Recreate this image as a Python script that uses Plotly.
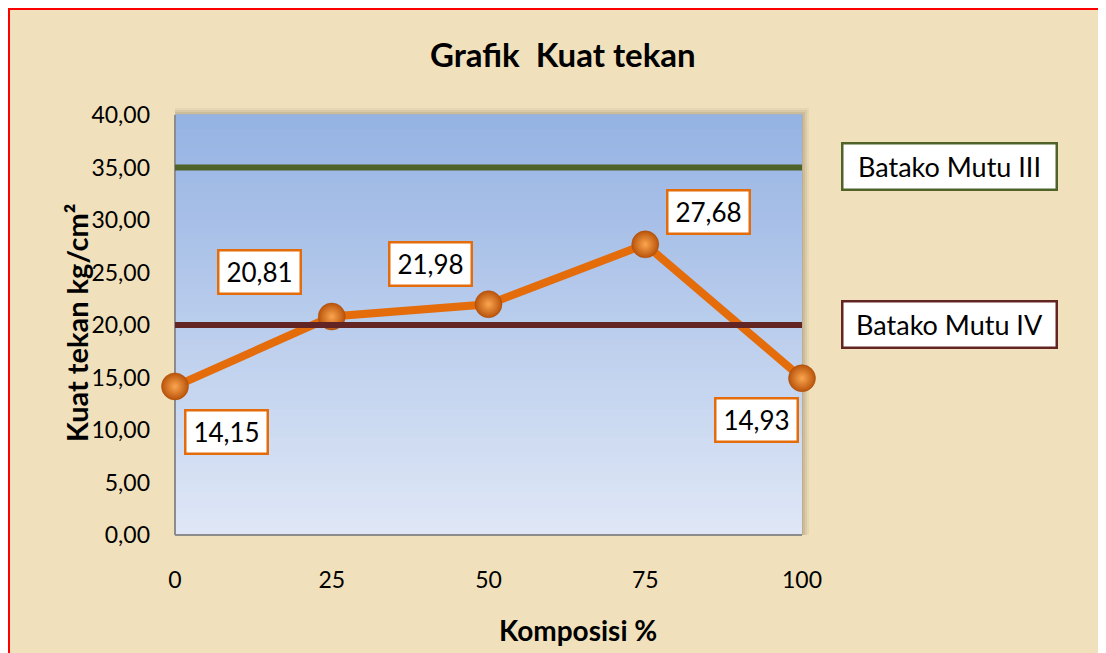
import plotly.graph_objects as go

# ---- data ----
komposisi = [0, 25, 50, 75, 100]
kuat_tekan = [14.15, 20.81, 21.98, 27.68, 14.93]
label_text = ["14,15", "20,81", "21,98", "27,68", "14,93"]
mutu_names = ["Batako Mutu III", "Batako Mutu IV"]
mutu_values = [35.0, 20.0]
y_ticks = [0, 5, 10, 15, 20, 25, 30, 35, 40]
x_ticks = [0, 25, 50, 75, 100]

OFF = 8  # default page body margin
W, H = 1106 - OFF, 653 - OFF
# plot area in screen pixels
SL, SR, ST, SB = 175, 802, 115, 535
L, R, T, B = SL - OFF, SR - OFF, ST - OFF, SB - OFF

def px(sx):
    return (sx - OFF - L) / (R - L)

def py(sy):
    return (B - (sy - OFF)) / (B - T)

FONT = "Lato"
fig = go.Figure()

fig.add_trace(go.Scatter(
    x=komposisi, y=kuat_tekan, mode="lines+markers", name="Kuat tekan",
    line=dict(color="#e46c0a", width=8),
    marker=dict(size=27, color="#b9530a",
                gradient=dict(type="radial", color="#fba650"),
                line=dict(color="#a84a06", width=0.5)),
    cliponaxis=False,
))

mutu_colors = ["#4f6228", "#632523"]
for name, val, col in zip(mutu_names, mutu_values, mutu_colors):
    fig.add_trace(go.Scatter(x=[komposisi[0], komposisi[-1]], y=[val, val], mode="lines",
                             line=dict(color=col, width=6), name=name, hoverinfo="skip",
                             cliponaxis=False))

shapes = []
# parchment background with red frame
shapes.append(dict(type="rect", xref="paper", yref="paper",
                   x0=px(9), x1=px(1120), y0=py(670), y1=py(9),
                   fillcolor="#f0e0bb", line=dict(color="#ff0000", width=2), layer="below"))
# soft plot-area shadow
for k, a in [(7, 0.06), (5, 0.08), (3, 0.10), (1, 0.12)]:
    shapes.append(dict(type="rect", xref="paper", yref="paper",
                       x0=px(SL), x1=px(SR + k), y0=py(SB), y1=py(ST - k),
                       fillcolor="rgba(90,70,40,%.2f)" % a, line=dict(width=0), layer="below"))
# gradient plot background
top = (149, 179, 227)
bot = (223, 231, 246)
n = 60
for i in range(n):
    t = i / (n - 1)
    c = tuple(round(bot[k] + (top[k] - bot[k]) * t) for k in range(3))
    shapes.append(dict(type="rect", xref="paper", yref="paper",
                       x0=0, x1=1, y0=i / n, y1=(i + 1) / n + 0.002,
                       fillcolor="rgb(%d,%d,%d)" % c, line=dict(width=0), layer="below"))
# axis lines (left, bottom)
shapes.append(dict(type="line", xref="paper", yref="paper", x0=0, x1=0, y0=0, y1=1,
                   line=dict(color="#8c8c8c", width=2), layer="below"))
shapes.append(dict(type="line", xref="paper", yref="paper", x0=0, x1=1, y0=0, y1=0,
                   line=dict(color="#8c8c8c", width=2), layer="below"))

annotations = []
offsets = [(51, -46), (-72, 45), (-58, 40), (63, 32), (-46, -42)]
for xv, yv, txt, (dx, dy) in zip(komposisi, kuat_tekan, label_text, offsets):
    annotations.append(dict(x=xv, y=yv, xref="x", yref="y", text=txt, showarrow=False,
                            xanchor="center", yanchor="middle",
                            xshift=dx, yshift=dy, bgcolor="white", bordercolor="#e46c0a",
                            borderwidth=2.5, borderpad=3, width=74, height=35,
                            font=dict(family=FONT, size=26, color="black")))
for name, val, col in zip(mutu_names, mutu_values, mutu_colors):
    annotations.append(dict(x=px(949), y=val, xref="paper", yref="y", text=name,
                            xanchor="center", yanchor="middle", yshift=1,
                            showarrow=False, bgcolor="white", bordercolor=col, borderwidth=2.5,
                            borderpad=3, width=206, height=38,
                            font=dict(family=FONT, size=27, color="black")))
annotations.append(dict(x=px(563), y=py(54), xref="paper", yref="paper",
                        xanchor="center", yanchor="middle",
                        text="<b>Grafik\u00a0\u00a0Kuat tekan</b>", showarrow=False,
                        font=dict(family=FONT, size=33, color="black")))
annotations.append(dict(x=px(578), y=py(630), xref="paper", yref="paper",
                        xanchor="center", yanchor="middle",
                        text="<b>Komposisi %</b>", showarrow=False,
                        font=dict(family=FONT, size=28, color="black")))
annotations.append(dict(x=px(76), y=py(323), xref="paper", yref="paper",
                        xanchor="center", yanchor="middle",
                        text="<b>Kuat tekan kg/cm\u00b2</b>", showarrow=False, textangle=-90,
                        font=dict(family=FONT, size=29, color="black")))

fig.update_layout(
    width=W, height=H,
    margin=dict(l=L, r=W - R, t=T, b=H - B, pad=0),
    paper_bgcolor="#d9d9d9",
    plot_bgcolor="rgba(0,0,0,0)",
    showlegend=False,
    separators=",.",
    shapes=shapes,
    annotations=annotations,
    font=dict(family=FONT, size=23, color="black"),
    xaxis=dict(range=[0, 100], tickvals=x_ticks, showgrid=False, zeroline=False,
               showline=False, ticks="", ticklabelstandoff=29,
               tickfont=dict(family=FONT, size=23)),
    yaxis=dict(range=[0, 40], tickvals=y_ticks, tickformat=".2f", showgrid=False,
               zeroline=False, showline=False, ticks="", ticklabelstandoff=24,
               tickfont=dict(family=FONT, size=23)),
)

fig.write_html("out.html")
